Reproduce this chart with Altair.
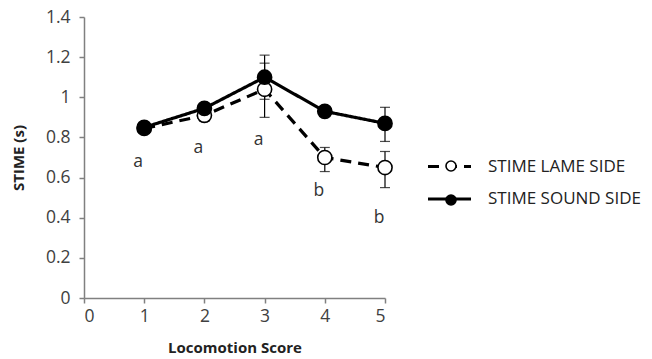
import altair as alt
import pandas as pd

scores = [1, 2, 3, 4, 5]
series_names = ["STIME LAME SIDE", "STIME SOUND SIDE"]
lame_mean = [0.845, 0.91, 1.04, 0.70, 0.65]
lame_lo = [0.835, 0.88, 0.90, 0.63, 0.55]
lame_hi = [0.855, 0.94, 1.17, 0.75, 0.73]
sound_mean = [0.85, 0.945, 1.10, 0.93, 0.87]
sound_lo = [0.84, 0.925, 0.99, 0.905, 0.78]
sound_hi = [0.86, 0.965, 1.21, 0.95, 0.95]
letters = ["a", "a", "a", "b", "b"]
letter_y = [0.68, 0.745, 0.785, 0.535, 0.40]

rows = []
for i, s in enumerate(scores):
    rows.append({"score": s, "series": series_names[0], "mean": lame_mean[i], "lo": lame_lo[i], "hi": lame_hi[i]})
for i, s in enumerate(scores):
    rows.append({"score": s, "series": series_names[1], "mean": sound_mean[i], "lo": sound_lo[i], "hi": sound_hi[i]})
df = pd.DataFrame(rows)
df_letters = pd.DataFrame({"score": scores, "letter": letters, "ly": letter_y})

FONT = "Open Sans"
xscale = alt.Scale(domain=[0, 5], nice=False)
yscale = alt.Scale(domain=[0, 1.4], nice=False)

x_enc = alt.X("score:Q", scale=xscale,
              axis=alt.Axis(title="Locomotion Score", values=[0, 1, 2, 3, 4, 5], format="d",
                            grid=False, tickSize=5, labelPadding=4, titlePadding=16))
y_enc = alt.Y("mean:Q", scale=yscale,
              axis=alt.Axis(title="STIME (s)", values=[0, 0.2, 0.4, 0.6, 0.8, 1, 1.2, 1.4], format="~g",
                            grid=False, tickSize=5, labelPadding=9, titlePadding=19))

leg_line = alt.Legend(title=None, orient="none", legendX=353, legendY=137, symbolSize=462,
                      symbolType="M-2,0H2", symbolStrokeWidth=3, symbolStrokeColor="black",
                      rowPadding=11.5, labelFontSize=17, labelFont=FONT, labelColor="#222222",
                      labelLimit=300, labelOffset=26, zindex=1)
leg_circ = alt.Legend(title=None, orient="none", legendX=361, legendY=143, symbolSize=100,
                      symbolType="circle", symbolStrokeWidth=1.6, symbolStrokeColor="black",
                      rowPadding=16, labelFontSize=10, labelExpr="''", labelOffset=2, zindex=2)

base = alt.Chart(df)

lines = base.mark_line(color="black", strokeWidth=3.2).encode(
    x=x_enc, y=y_enc,
    detail="series:N",
    strokeDash=alt.StrokeDash("series:N", scale=alt.Scale(domain=series_names, range=[[11, 7], [1, 0]]), legend=leg_line),
    order="score:Q",
)

err = base.mark_rule(color="black", strokeWidth=1.2).encode(
    x="score:Q", y="lo:Q", y2="hi:Q")
cap_lo = base.mark_tick(color="black", thickness=1.2, size=10, orient="horizontal").encode(
    x="score:Q", y="lo:Q")
cap_hi = base.mark_tick(color="black", thickness=1.2, size=10, orient="horizontal").encode(
    x="score:Q", y="hi:Q")

points = base.mark_point(filled=True, stroke="black", strokeWidth=1.6, size=200, opacity=1).encode(
    x="score:Q", y="mean:Q",
    fill=alt.Fill("series:N", scale=alt.Scale(domain=series_names, range=["white", "black"]), legend=leg_circ),
    order=alt.Order("series:N"),
)

text = alt.Chart(df_letters).mark_text(fontSize=17.5, font=FONT, color="#333333", dx=-6).encode(
    x="score:Q", y="ly:Q", text="letter:N")

chart = alt.layer(err, cap_lo, cap_hi, lines, points, text).resolve_legend(
    strokeDash="independent", fill="independent"
).properties(
    width=301, height=281,
    autosize=alt.AutoSizeParams(type="none"),
    padding={"left": 84, "top": 17, "right": 267, "bottom": 61},
).configure_view(stroke=None).configure_axis(
    domainColor="#808080", tickColor="#808080", domainWidth=1.5, tickWidth=1.5,
    labelFont=FONT, labelFontSize=17.5, labelColor="#404040",
    titleFont=FONT, titleFontSize=15, titleFontWeight="bold", titleColor="#222222",
)

chart.save("out.html", embed_options={"renderer": "svg", "actions": False})
